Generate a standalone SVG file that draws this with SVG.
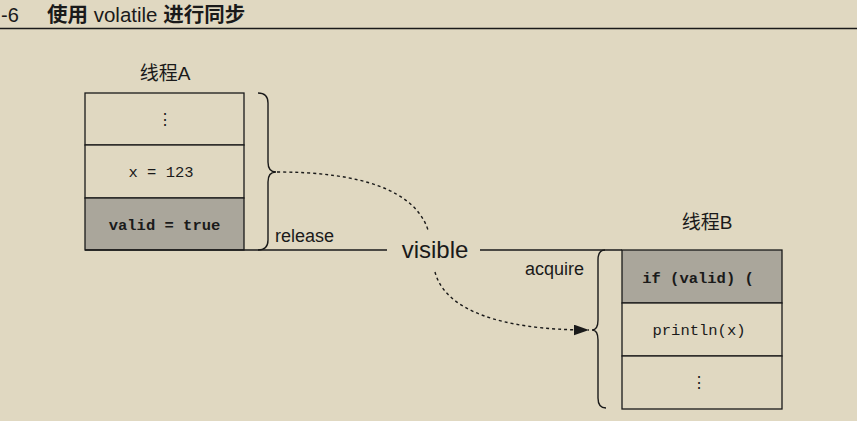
<svg xmlns="http://www.w3.org/2000/svg" width="857" height="421" viewBox="0 0 857 421">
<defs>
<style>
.cell{fill:#e0d8c1;stroke:#1a1a1a;stroke-width:1.3}
.gray{fill:#aaa69b;stroke:#1a1a1a;stroke-width:1.3}
.mono{font-family:"Liberation Mono","DejaVu Sans Mono",monospace;font-size:15.5px;fill:#1a1a1a;text-anchor:middle}
.bold{font-weight:bold}
.sans{font-family:"Liberation Sans","Noto Sans CJK SC",sans-serif;fill:#1a1a1a}
.line{fill:none;stroke:#1a1a1a;stroke-width:1.4}
.dash{fill:none;stroke:#1a1a1a;stroke-width:1.4;stroke-dasharray:3 3}
</style>
<marker id="arr" viewBox="0 0 14 10" refX="14" refY="5" markerWidth="15" markerHeight="11" markerUnits="userSpaceOnUse" orient="auto">
<path d="M0,0 L14,5 L0,10 Z" fill="#1a1a1a"/>
</marker>
</defs>
<rect width="857" height="421" fill="#e0d8c1"/>
<g id="title">
<text class="sans" x="1" y="22" font-size="20">-6</text>
<text class="sans" x="47" y="22" font-size="20.5" font-weight="bold">使用 <tspan font-weight="normal">volatile</tspan> 进行同步</text>
<line x1="0" y1="28.5" x2="857" y2="28.5" stroke="#1a1a1a" stroke-width="1.3"/>
</g>
<g id="threadA">
<text class="sans" x="165" y="80" font-size="19" text-anchor="middle">线程A</text>
<rect class="cell" x="85" y="93" width="159" height="52"/>
<rect class="cell" x="85" y="145" width="159" height="53"/>
<rect class="gray" x="85" y="198" width="159" height="52"/>
<text class="mono" x="164.5" y="125">⋮</text>
<text class="mono" x="161" y="177">x = 123</text>
<text class="mono bold" x="164.5" y="230">valid = true</text>
</g>
<g id="threadB">
<text class="sans" x="707" y="229" font-size="19" text-anchor="middle">线程B</text>
<rect class="gray" x="622" y="250" width="160" height="53"/>
<rect class="cell" x="622" y="303" width="160" height="53"/>
<rect class="cell" x="622" y="356" width="160" height="53"/>
<text class="mono bold" x="698" y="283">if (valid) (</text>
<text class="mono" x="699" y="335">println(x)</text>
<text class="mono" x="699" y="388">⋮</text>
</g>
<g id="connectors">
<path class="line" d="M258,93 Q268,93 268,103 L268,162 Q268,172 276,172 Q268,172 268,182 L268,240 Q268,250 258,250"/>
<path class="line" d="M605,250 Q598,250 598,260 L598,320 Q598,330 592,330 Q598,330 598,340 L598,398 Q598,408 606,408"/>
<line class="line" x1="85" y1="250" x2="387" y2="250"/>
<line class="line" x1="480" y1="250" x2="622" y2="250"/>
<path class="dash" d="M277,172 C360,172 415,190 428,230"/>
<path class="dash" d="M435,272 C445,310 500,330 589,330" marker-end="url(#arr)"/>
<text class="sans" x="275" y="242" font-size="18">release</text>
<text class="sans" x="435" y="258" font-size="24" text-anchor="middle">visible</text>
<text class="sans" x="525" y="275" font-size="18">acquire</text>
</g>
</svg>
